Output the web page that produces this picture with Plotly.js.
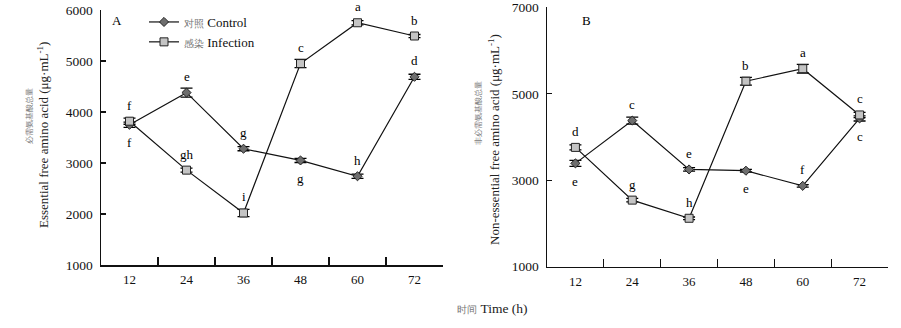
<!DOCTYPE html>
<html>
<head>
<meta charset="utf-8">
<script src="https://cdn.plot.ly/plotly-3.0.1.min.js"></script>
<style>html,body{margin:0;padding:0;background:#fff;}#chart{width:901px;height:328px;}</style>
</head>
<body>
<div id="chart"></div>
<script>
// ---- data ----
const times = ["12", "24", "36", "48", "60", "72"];

const essControl = [3750, 4380, 3280, 3050, 2740, 4690];
const essControlErr = [50, 90, 40, 40, 40, 50];
const essInfection = [3820, 2860, 2020, 4950, 5750, 5490];
const essInfectionErr = [60, 40, 70, 80, 40, 30];

const nonControl = [3390, 4380, 3250, 3220, 2870, 4430];
const nonControlErr = [70, 80, 40, 30, 30, 60];
const nonInfection = [3760, 2540, 2120, 5290, 5580, 4510];
const nonInfectionErr = [60, 40, 30, 90, 100, 60];

const essControlLetters = ["f", "e", "g", "g", "h", "d"];
const essControlSide = ["below", "above", "above", "below", "above", "above"];
const essInfectionLetters = ["f", "gh", "i", "c", "a", "b"];
const essInfectionSide = ["above", "above", "above", "above", "above", "above"];

const nonControlLetters = ["e", "c", "e", "e", "f", "c"];
const nonControlSide = ["below", "above", "above", "below", "above", "below"];
const nonInfectionLetters = ["d", "g", "h", "b", "a", "c"];
const nonInfectionSide = ["above", "above", "above", "above", "above", "above"];

const seriesNames = [
  '<span style="color:#777;font-size:10px">对照</span> Control',
  '<span style="color:#777;font-size:10px">感染</span> Infection'
];

// ---- styles ----
const SERIF = "Liberation Serif";
const ctrlMarker = {symbol: "diamond", size: 7, color: "#6e6e6e", line: {color: "#222", width: 1}};
const infMarker = {symbol: "square", size: 8, color: "#c4c4c4", line: {color: "#222", width: 1}};
function errBar(arr) {
  return {type: "data", array: arr, visible: true, color: "#000", thickness: 1.3, width: 6};
}
function trace(y, err, marker, name, xa, ya, show) {
  return {x: times, y: y, type: "scatter", mode: "lines+markers", name: name,
    xaxis: xa, yaxis: ya, showlegend: show,
    line: {color: "#111", width: 1.2}, marker: marker, error_y: errBar(err)};
}

const data = [
  trace(essControl, essControlErr, ctrlMarker, seriesNames[0], "x", "y", true),
  trace(essInfection, essInfectionErr, infMarker, seriesNames[1], "x", "y", true),
  trace(nonControl, nonControlErr, ctrlMarker, seriesNames[0], "x2", "y2", false),
  trace(nonInfection, nonInfectionErr, infMarker, seriesNames[1], "x2", "y2", false)
];

const annotations = [];
function addLetters(vals, letters, sides, xr, yr) {
  letters.forEach(function (t, i) {
    annotations.push({x: i, y: vals[i], xref: xr, yref: yr, text: t, showarrow: false,
      xanchor: "center", yanchor: "middle",
      yshift: sides[i] === "above" ? 16 : -18, font: {family: SERIF, size: 13, color: "#000"}});
  });
}
addLetters(essControl, essControlLetters, essControlSide, "x", "y");
addLetters(essInfection, essInfectionLetters, essInfectionSide, "x", "y");
addLetters(nonControl, nonControlLetters, nonControlSide, "x2", "y2");
addLetters(nonInfection, nonInfectionLetters, nonInfectionSide, "x2", "y2");

function paperAnn(text, px, py, size, color, angle) {
  annotations.push({text: text, xref: "paper", yref: "paper", x: px / 901, y: 1 - py / 328,
    xanchor: "center", yanchor: "middle", showarrow: false, textangle: angle || 0,
    font: {family: SERIF, size: size, color: color}});
}
paperAnn("A", 117, 21, 13, "#000");
paperAnn("B", 586, 20, 13, "#000");
paperAnn("必需氨基酸总量", 29, 116, 8, "#777", -90);
paperAnn("Essential free amino acid (μg·mL<sup>-1</sup>)", 43, 135, 13, "#222", -90);
paperAnn("非必需氨基酸总量", 479, 113, 8, "#777", -90);
paperAnn("Non-essential free amino acid (μg·mL<sup>-1</sup>)", 494, 140, 13, "#222", -90);
paperAnn('<span style="color:#777;font-size:10px">时间</span> Time (h)', 492, 308, 13.5, "#222");

function xAxis(dom, anchor) {
  return {type: "category", domain: dom, anchor: anchor, range: [-0.5, 5.5],
    showline: true, linecolor: "#111", linewidth: 1.5, mirror: false,
    ticks: "inside", tickson: "boundaries", ticklen: 8, tickwidth: 1.2, tickcolor: "#111",
    showgrid: false, zeroline: false, ticklabelstandoff: 2,
    tickfont: {family: SERIF, size: 13, color: "#111"}};
}
function yAxis(dom, anchor, range, dtick) {
  return {domain: dom, anchor: anchor, range: range, dtick: dtick, tick0: 1000, tickformat: "d",
    showline: true, linecolor: "#111", linewidth: 1.5,
    ticks: "inside", ticklen: 5, tickwidth: 1.2, tickcolor: "#111",
    showgrid: false, zeroline: false, ticklabelstandoff: 4,
    tickfont: {family: SERIF, size: 13.5, color: "#111"}};
}

const layout = {
  width: 901, height: 328,
  margin: {l: 0, r: 0, t: 0, b: 0},
  paper_bgcolor: "#fff", plot_bgcolor: "#fff",
  font: {family: SERIF},
  showlegend: true,
  legend: {x: 144 / 901, y: 1 - 7 / 328, xanchor: "left", yanchor: "top",
    bgcolor: "rgba(0,0,0,0)", font: {family: SERIF, size: 13, color: "#111"},
    tracegroupgap: 0, itemwidth: 30},
  xaxis: xAxis([101 / 901, 443 / 901], "y"),
  yaxis: yAxis([1 - 265 / 328, 1 - 10 / 328], "x", [1000, 6000], 1000),
  xaxis2: xAxis([547 / 901, 888 / 901], "y2"),
  yaxis2: yAxis([1 - 266.7 / 328, 1 - 7.3 / 328], "x2", [1000, 7000], 2000),
  annotations: annotations
};

Plotly.newPlot("chart", data, layout, {staticPlot: true, displayModeBar: false});
</script>
</body>
</html>
